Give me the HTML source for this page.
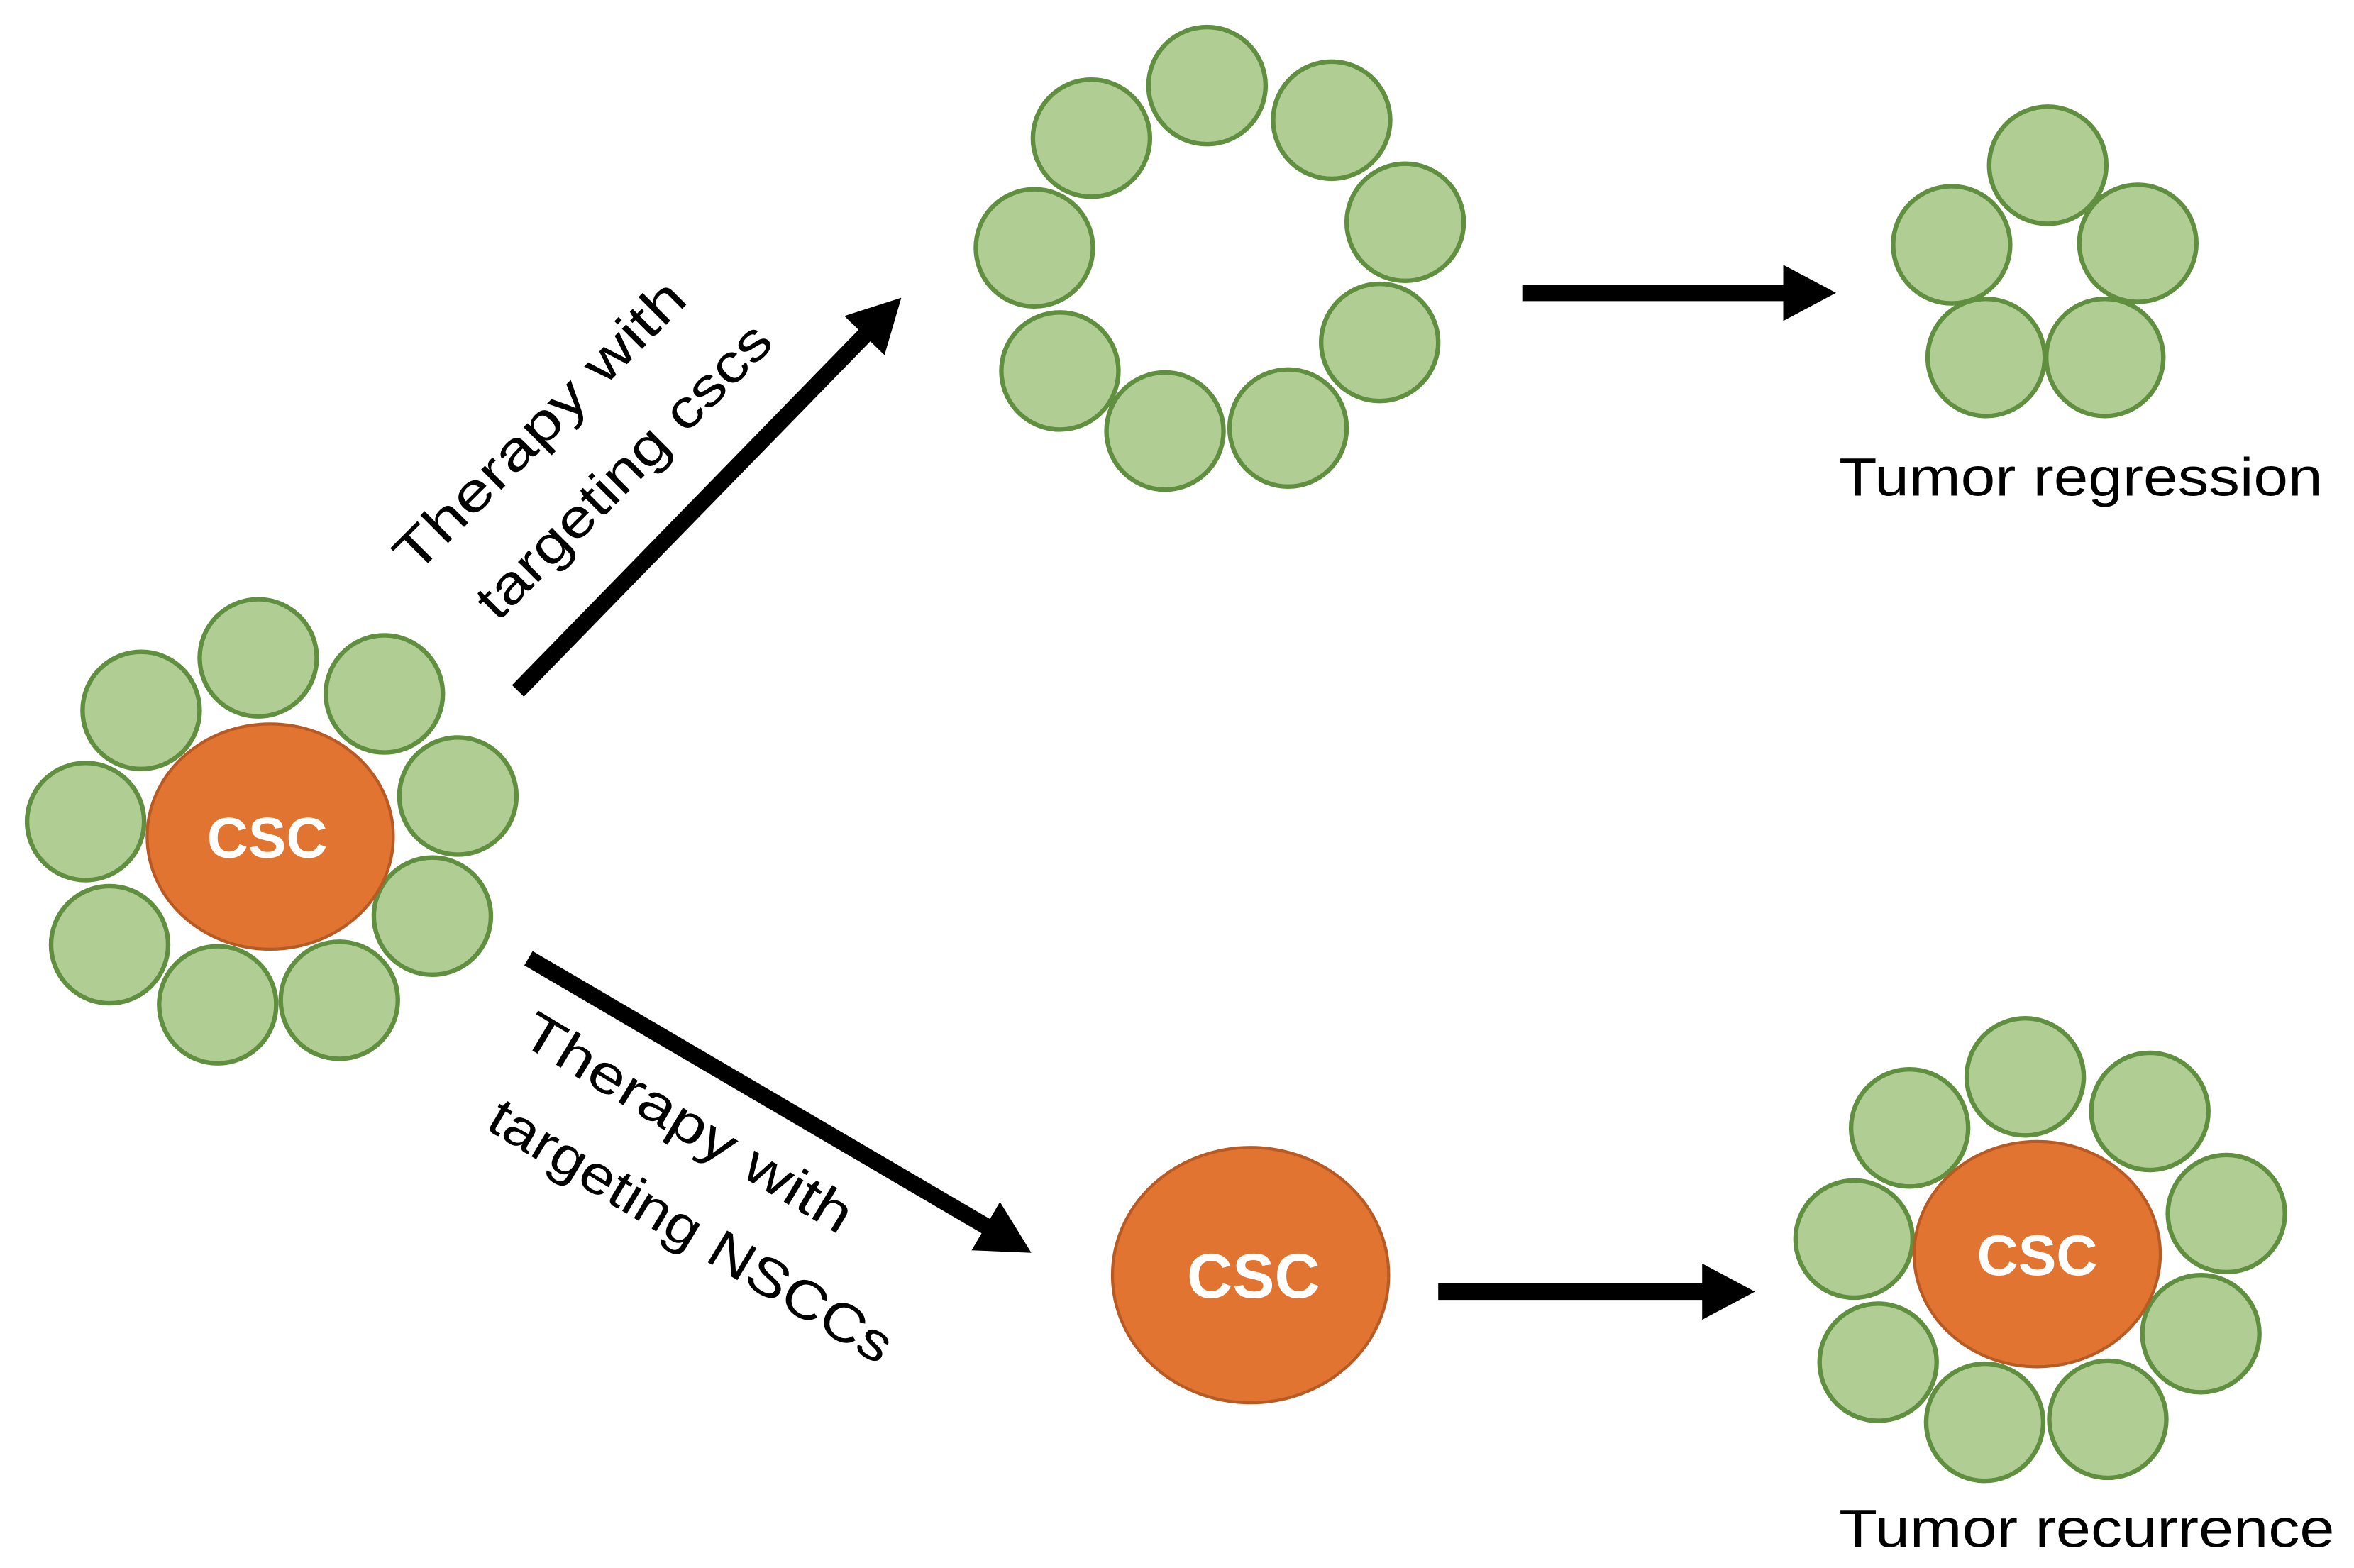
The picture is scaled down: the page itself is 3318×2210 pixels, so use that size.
<!DOCTYPE html>
<html><head><meta charset="utf-8"><style>
html,body{margin:0;padding:0;background:#fff;}
svg{display:block;}
text{font-family:"Liberation Sans",sans-serif;}
</style></head><body>
<svg width="3318" height="2210" viewBox="0 0 1568 1044" preserveAspectRatio="none" xmlns="http://www.w3.org/2000/svg">
<defs>
<marker id="ah" markerWidth="4" markerHeight="4" refX="1.2" refY="2" orient="auto" markerUnits="strokeWidth">
<path d="M0,0.3 L3.2,2 L0,3.7 Z" fill="#000"/>
</marker>
</defs>
<g fill="#b0ce94" stroke="#5f8f3f" stroke-width="3">
<circle cx="172" cy="438" r="39"/><circle cx="94" cy="473" r="39"/><circle cx="256" cy="462" r="39"/>
<circle cx="305" cy="530" r="39"/><circle cx="57" cy="547" r="39"/><circle cx="288" cy="610" r="39"/>
<circle cx="73" cy="629" r="39"/><circle cx="145" cy="669" r="39"/><circle cx="226" cy="666" r="39"/>
<circle cx="804" cy="57" r="39"/><circle cx="727" cy="92" r="39"/><circle cx="887" cy="80" r="39"/>
<circle cx="936" cy="148" r="39"/><circle cx="689" cy="165" r="39"/><circle cx="919" cy="228" r="39"/>
<circle cx="706" cy="247" r="39"/><circle cx="776" cy="287" r="39"/><circle cx="858" cy="285" r="39"/>
<circle cx="1364" cy="110" r="39"/><circle cx="1300" cy="163" r="39"/><circle cx="1424" cy="162" r="39"/>
<circle cx="1323" cy="238" r="39"/><circle cx="1402" cy="238" r="39"/>
<circle cx="1349" cy="717" r="39"/><circle cx="1272" cy="751" r="39"/><circle cx="1432" cy="740" r="39"/>
<circle cx="1483" cy="808" r="39"/><circle cx="1235" cy="825" r="39"/><circle cx="1466" cy="888" r="39"/>
<circle cx="1251" cy="907" r="39"/><circle cx="1322" cy="947" r="39"/><circle cx="1404" cy="945" r="39"/>
</g>
<g fill="#e07430" stroke="#b85a24" stroke-width="2">
<ellipse cx="180" cy="557" rx="82" ry="75"/>
<ellipse cx="833" cy="849" rx="92" ry="85"/>
<ellipse cx="1357" cy="835" rx="82" ry="75"/>
</g>
<g fill="#fff" font-weight="bold" text-anchor="middle">
<text x="178" y="571" font-size="38">CSC</text>
<text x="835" y="864" font-size="42">CSC</text>
<text x="1357" y="849" font-size="38">CSC</text>
</g>
<g stroke="#000" stroke-width="11" fill="none">
<line x1="345" y1="460" x2="585" y2="214" marker-end="url(#ah)"/>
<line x1="1014" y1="195" x2="1201" y2="195" marker-end="url(#ah)"/>
<line x1="352" y1="638" x2="668" y2="823" marker-end="url(#ah)"/>
<line x1="958" y1="860" x2="1147" y2="860" marker-end="url(#ah)"/>
</g>
<g font-size="36" fill="#000" text-anchor="middle">
<text transform="translate(368,292) rotate(-45)" textLength="258" lengthAdjust="spacingAndGlyphs">Therapy with</text>
<text transform="translate(424,322) rotate(-45)" textLength="262" lengthAdjust="spacingAndGlyphs">targeting cscs</text>
<text transform="translate(452,758) rotate(31)" textLength="250" lengthAdjust="spacingAndGlyphs">Therapy with</text>
<text transform="translate(454,830) rotate(31)" textLength="307" lengthAdjust="spacingAndGlyphs">targeting NSCCs</text>
<text x="1386" y="330" textLength="322" lengthAdjust="spacingAndGlyphs">Tumor regression</text>
<text x="1390" y="1030" textLength="330" lengthAdjust="spacingAndGlyphs">Tumor recurrence</text>
</g>
</svg>
</body></html>
